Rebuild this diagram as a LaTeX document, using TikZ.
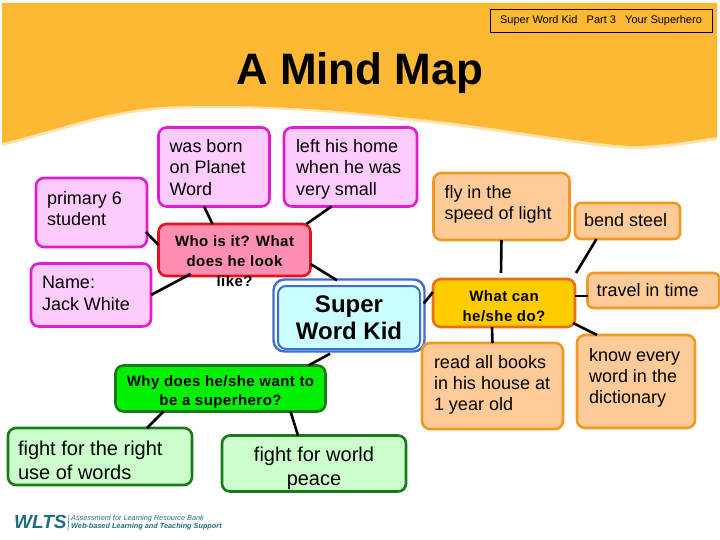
\documentclass[tikz,border=0pt]{standalone}
\usepackage{fontspec}
\setmainfont{Liberation Sans}
\definecolor{bandO}{HTML}{FDB933}
\definecolor{bandL}{HTML}{FCE3B0}
\definecolor{magE}{HTML}{E21CD0}
\definecolor{magF}{HTML}{FFCCFF}
\definecolor{redE}{HTML}{E4121E}
\definecolor{redF}{HTML}{FF8FB0}
\definecolor{bluE}{HTML}{3C6FD0}
\definecolor{bluF}{HTML}{CCFFFF}
\definecolor{grnE}{HTML}{1A7A1A}
\definecolor{grnF}{HTML}{00F000}
\definecolor{grnL}{HTML}{CCFFCC}
\definecolor{orgE}{HTML}{EF9A22}
\definecolor{orgF}{HTML}{FFCC99}
\definecolor{ambE}{HTML}{E8701A}
\definecolor{ambF}{HTML}{FFCC00}
\definecolor{teal}{HTML}{1F6F80}
\newcommand\bodyfont{\fontsize{18}{21.4}\selectfont}
\newcommand\headfont{\fontsize{15}{19.6}\selectfont\bfseries\addfontfeatures{LetterSpace=3}}
% width, height, left pad, top pad, text
\newcommand\inbox[5]{\parbox[c][#2pt][t]{#1pt}{\vspace*{#4pt}\leftskip=#3pt\relax\rightskip=0pt plus 1fil\relax\parindent=0pt #5}}
\newcommand\incen[5]{\parbox[c][#2pt][t]{#1pt}{\vspace*{#4pt}\centering #5}}
\tikzset{
  x=1pt,y=-1pt,
  bx/.style={rectangle,rounded corners=8pt,inner sep=0pt,outer sep=0pt,line width=2.6pt,font=\bodyfont},
  mag/.style={bx,draw=magE,fill=magF},
  org/.style={bx,draw=orgE,fill=orgF},
  lgr/.style={bx,draw=grnE,fill=grnL,font=\fontsize{20}{24}\selectfont},
  hred/.style={bx,draw=redE,fill=redF,font=\headfont},
  hamb/.style={bx,draw=ambE,fill=ambF,font=\headfont},
  hgrn/.style={bx,draw=grnE,fill=grnF,font=\headfont},
  con/.style={draw=black,line width=2.6pt},
}
\begin{document}
\begin{tikzpicture}
\useasboundingbox (0,0) rectangle (720,540);
\fill[white] (0,0) rectangle (720,540);
% band
\fill[bandL] (2,3) -- (717,3) -- (717,140) .. controls (690,144) and (660,149) .. (633,149)
  .. controls (590,148) and (480,127) .. (400,120) .. controls (320,110) and (240,106) .. (170,109)
  .. controls (110,112) and (60,132) .. (2,146) -- cycle;
\fill[bandO] (2,3) -- (717,3) -- (717,137) .. controls (690,141) and (660,146) .. (633,146)
  .. controls (590,145) and (480,124) .. (400,117) .. controls (320,108) and (240,104) .. (170,106.5)
  .. controls (110,109) and (60,129) .. (2,143) -- cycle;
\node[draw=black,line width=0.8pt,inner sep=0pt,minimum width=222pt,minimum height=23pt,font=\fontsize{11}{13}\selectfont] (hdr) at (601,20.5) {Super Word Kid\ \ \ Part 3\ \ \ Your Superhero};
\node[inner sep=0pt,font=\fontsize{44}{50}\selectfont\bfseries] (title) at (359.5,73) {A Mind Map};

% boxes
\node[mag,minimum width=111pt,minimum height=69pt] (primary) at (91.5,212.5) {\inbox{111}{69}{11}{13}{primary 6\\student}};
\node[mag,minimum width=120pt,minimum height=63pt] (jack) at (91,295) {\inbox{120}{63}{11}{13}{Name:\\Jack White}};
\node[mag,minimum width=111pt,minimum height=79pt] (born) at (214,167) {\inbox{111}{79}{11}{12}{was born\\on Planet\\Word}};
\node[mag,minimum width=133pt,minimum height=79pt] (home) at (350.5,167) {\inbox{133}{79}{12}{12}{left his home\\when he was\\very small}};
\node[hred,minimum width=152pt,minimum height=52pt] (who) at (234.5,250) {\incen{152}{52}{0}{12}{Who is it? What\\does he look\\like?}};
\node[draw=bluE,fill=white,rectangle,rounded corners=11pt,line width=2.4pt,inner sep=0pt,minimum width=151pt,minimum height=72pt] (kidout) at (349,315.5) {};
\node[draw=bluE,fill=bluF,rectangle,rounded corners=8pt,line width=2pt,inner sep=0pt,minimum width=142pt,minimum height=63pt,font=\fontsize{24}{27}\selectfont\bfseries,align=center] (kid) at (349,317.5) {Super\\Word Kid};
\node[hgrn,minimum width=210pt,minimum height=46pt] (why) at (220.5,388.5) {\incen{210}{46}{0}{10}{Why does he/she want to\\be a superhero?}};
\node[lgr,minimum width=184pt,minimum height=57pt] (right) at (100,456.5) {\inbox{184}{57}{10}{13}{fight for the right\\use of words}};
\node[lgr,minimum width=184pt,minimum height=56pt] (peace) at (314,463.5) {\incen{184}{56}{0}{12}{fight for world\\peace}};
\node[org,minimum width=136pt,minimum height=67pt] (fly) at (501.5,206.5) {\inbox{136}{67}{11}{12}{fly in the\\speed of light}};
\node[org,minimum width=105pt,minimum height=36pt,rounded corners=6pt] (bend) at (627.5,221) {\inbox{105}{36}{9}{10}{bend steel}};
\node[hamb,minimum width=142pt,minimum height=48pt] (can) at (504,303) {\incen{142}{48}{0}{12}{What can\\he/she do?}};
\node[org,minimum width=132pt,minimum height=35pt,rounded corners=6pt] (travel) at (653.5,290.5) {\inbox{132}{35}{9}{10}{travel in time}};
\node[org,minimum width=141pt,minimum height=86pt] (books) at (492.5,386) {\inbox{141}{86}{12}{12}{read all books\\in his house at\\1 year old}};
\node[org,minimum width=118pt,minimum height=93pt] (know) at (636,381.5) {\inbox{118}{93}{12}{13}{know every\\word in the\\dictionary}};

% connectors
\draw[con] ([xshift=-1pt,yshift=15pt]primary.south east) -- ([yshift=-21pt]who.north west);
\draw[con] (jack.east) -- ([xshift=32pt,yshift=2pt]who.south west);
\draw[con] ([xshift=-10pt]born.south) -- ([xshift=-22pt]who.north);
\draw[con] ([xshift=-19pt]home.south) -- ([xshift=-4pt]who.north east);
\draw[con] ([yshift=-14pt]who.east) -- ([xshift=-12pt,yshift=-2pt]kidout.north);
\draw[con] ([xshift=-2pt,yshift=12pt]kidout.east) -- ([yshift=11pt]can.west);
\draw[con] ([xshift=-19pt,yshift=-1pt]kidout.south) -- ([xshift=88pt]why.north);
\draw[con] ([xshift=-57pt]why.south) -- ([xshift=47pt]right.north);
\draw[con] ([xshift=70pt]why.south) -- ([xshift=-16pt]peace.north);
\draw[con] (fly.south) -- ([xshift=-3pt,yshift=6pt]can.north);
\draw[con] ([xshift=-31pt]bend.south) -- ([xshift=1pt,yshift=6pt]can.north east);
\draw[con] ([yshift=7pt]can.east) -- ([yshift=-5.5pt]travel.west);
\draw[con] ([xshift=-2pt,yshift=4pt]can.south east) -- ([xshift=-39pt]know.north);
\draw[con] ([xshift=-12pt]can.south) -- (books.north);

% logo
\node[inner sep=0pt,anchor=west,text=teal,font=\fontsize{19}{20}\selectfont\bfseries\itshape] (wlts) at (14,522) {WLTS};
\draw[teal,line width=0.6pt] (69,515) -- (68,530);
\node[inner sep=0pt,anchor=north west,align=left,text=teal,font=\fontsize{7.3}{7.6}\selectfont\itshape] (bank) at (71,515) {Assessment for Learning Resource Bank\\\textbf{Web-based Learning and Teaching Support}};
\end{tikzpicture}
\end{document}
